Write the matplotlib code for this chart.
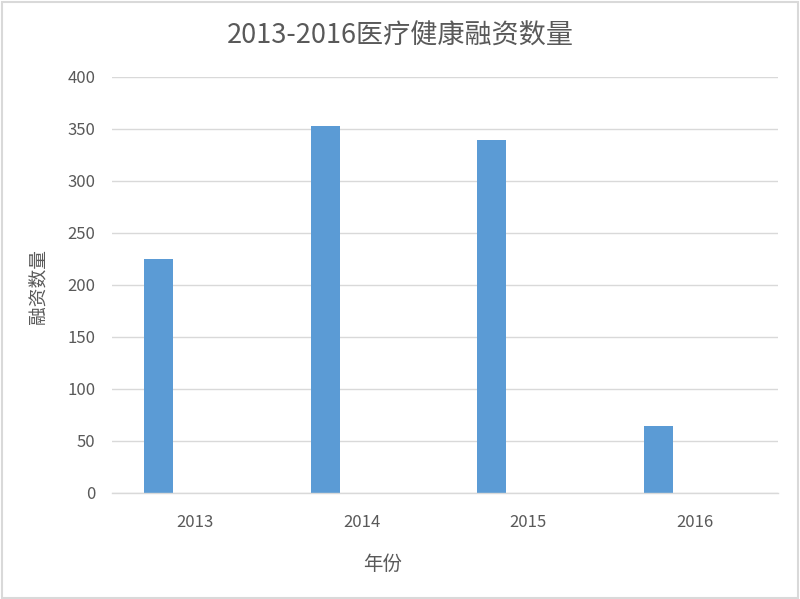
import matplotlib
matplotlib.use("Agg")
import matplotlib.pyplot as plt
from matplotlib.patches import Rectangle
import numpy as np

years = ["2013", "2014", "2015", "2016"]
counts = [225, 353, 339, 64]
yticks = [0, 50, 100, 150, 200, 250, 300, 350, 400]

plt.rcParams['font.family'] = ['Noto Sans CJK SC', 'DejaVu Sans']

fig = plt.figure(figsize=(8.0, 5.99), dpi=100)
ax = fig.add_axes([0.14, 0.177, 0.8325, 0.6945])

x = np.arange(len(years))
ax.bar(x - 0.219, counts, width=0.1725, color='#5b9bd5', zorder=3)

ax.set_xlim(-0.5, len(years) - 0.5)
ax.set_ylim(0, 400)
ax.set_yticks(yticks)
ax.set_xticks(x)
ax.set_xticklabels(years)
ax.tick_params(axis='both', length=0, colors='#595959', labelsize=12)
ax.tick_params(axis='x', pad=15)
ax.tick_params(axis='y', pad=12)
ax.grid(axis='y', color='#d9d9d9', linewidth=1, zorder=0)
for s in ['top', 'right', 'left']:
    ax.spines[s].set_visible(False)
ax.spines['bottom'].set_color('#d9d9d9')
ax.spines['bottom'].set_linewidth(1)
ax.spines['bottom'].set_zorder(4)

fig.text(0.5, 1 - 36 / 599, "2013-2016医疗健康融资数量", ha='center', va='center',
         fontsize=19.5, color='#595959')
fig.text(383 / 800, 1 - 564 / 599, "年份", ha='center', va='center',
         fontsize=14, color='#595959')
fig.text(38 / 800, 1 - 287 / 599, "融资数量", ha='center', va='center', rotation=90,
         fontsize=13.5, color='#595959')

fig.patches.append(Rectangle((2 / 800, 1.5 / 599), 1 - 4 / 800, 1 - 3 / 599,
                             transform=fig.transFigure, fill=False,
                             edgecolor='#d9d9d9', linewidth=1.5))

fig.savefig("out.png", dpi=100, facecolor='white')
